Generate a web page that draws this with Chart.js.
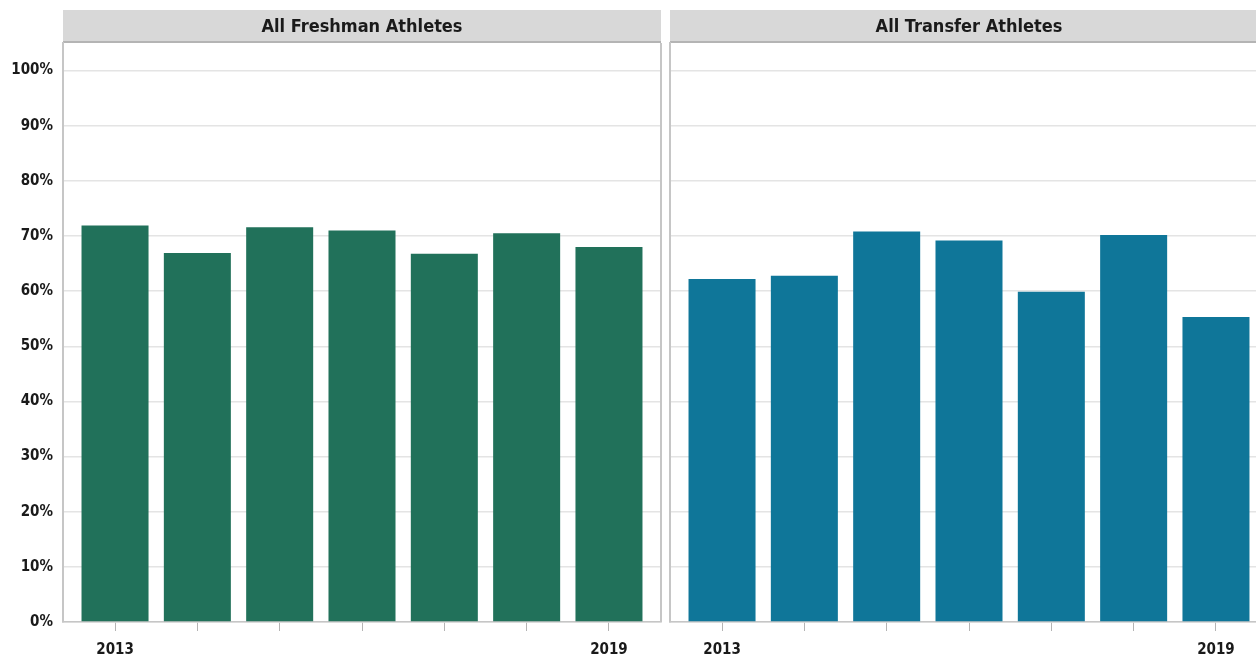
<!DOCTYPE html>
<html>
<head>
<meta charset="utf-8">
<title>Athlete Rates 2013-2019</title>
<script src="https://cdn.jsdelivr.net/npm/chart.js@4/dist/chart.umd.min.js"></script>
<style>
  html, body { margin: 0; padding: 0; background: #fff; overflow: hidden; }
  #wrap { position: relative; width: 1256px; height: 660px; overflow: hidden; }
  #left { position: absolute; left: 0; top: 0; }
  #right { position: absolute; left: 665px; top: 0; }
</style>
</head>
<body>
<div id="wrap">
  <canvas id="left" width="665" height="660"></canvas>
  <canvas id="right" width="610" height="660"></canvas>
</div>
<script>
const years = ['2013', '2014', '2015', '2016', '2017', '2018', '2019'];
const freshmanRates = [71.9, 66.9, 71.6, 71.0, 66.8, 70.5, 68.0];
const transferRates = [62.2, 62.8, 70.8, 69.2, 59.9, 70.2, 55.3];
const yTicks = [0, 10, 20, 30, 40, 50, 60, 70, 80, 90, 100];

const FONT = '"DejaVu Sans Condensed", "DejaVu Sans", sans-serif';
const BORDER = '#c6c6c6';

// grey header strip behind the title plus the right-hand frame line
const panelFrame = {
    id: 'panelFrame',
    beforeDraw(chart) {
        const { ctx, chartArea } = chart;
        ctx.save();
        ctx.fillStyle = '#d8d8d8';
        ctx.fillRect(chartArea.left, chartArea.top - 33, chartArea.right - chartArea.left, 33);
        ctx.fillStyle = '#b4b4b4';
        ctx.fillRect(chartArea.left, chartArea.top - 2, chartArea.right - chartArea.left, 2);
        ctx.restore();
    },
    afterDraw(chart) {
        const { ctx, chartArea } = chart;
        ctx.save();
        ctx.strokeStyle = BORDER;
        ctx.lineWidth = 2;
        ctx.beginPath();
        ctx.moveTo(chartArea.right, chartArea.top);
        ctx.lineTo(chartArea.right, chartArea.bottom);
        ctx.stroke();
        ctx.restore();
    }
};

function makePanel(canvasId, title, values, color, showYLabels, padLeft, padRight) {
    const points = values.map((v, i) => ({ x: i, y: v }));
    return new Chart(document.getElementById(canvasId), {
        type: 'bar',
        data: {
            datasets: [{
                data: points,
                backgroundColor: color,
                borderWidth: 0,
                categoryPercentage: 1,
                barPercentage: 0.814
            }]
        },
        options: {
            responsive: false,
            animation: false,
            layout: { padding: { left: padLeft, right: padRight, top: 0, bottom: 0 } },
            plugins: {
                legend: { display: false },
                tooltip: { enabled: false },
                title: {
                    display: true,
                    text: title,
                    fullSize: false,
                    color: '#1a1a1a',
                    font: { family: FONT, size: 18, weight: 'bold', lineHeight: 1.2 },
                    padding: { top: 17, bottom: 4.4 }
                }
            },
            scales: {
                x: {
                    type: 'linear',
                    min: -0.632,
                    max: 6.632,
                    offset: false,
                    bounds: 'data',
                    afterBuildTicks(scale) {
                        scale.ticks = years.map((y, i) => ({ value: i }));
                    },
                    afterFit(scale) { scale.height = 38; },
                    grid: {
                        offset: false,
                        drawOnChartArea: false,
                        drawTicks: true,
                        tickLength: 9,
                        color: '#b4b4b4'
                    },
                    border: { display: true, color: BORDER, width: 1.5 },
                    ticks: {
                        maxRotation: 0,
                        autoSkip: false,
                        padding: 10,
                        color: '#1a1a1a',
                        font: { family: FONT, size: 15, weight: 'bold' },
                        callback(value) {
                            const last = years.length - 1;
                            return (value === 0 || value === last) ? years[value] : '';
                        }
                    }
                },
                y: {
                    min: 0,
                    max: 105,
                    afterBuildTicks(scale) {
                        scale.ticks = yTicks.map(v => ({ value: v }));
                    },
                    afterFit(scale) { scale.width = showYLabels ? 63 : 0; },
                    grid: { color: '#e4e4e4', lineWidth: 1.5, drawTicks: false },
                    border: { display: true, color: BORDER, width: 2 },
                    ticks: {
                        display: showYLabels,
                        padding: 10,
                        color: '#1a1a1a',
                        font: { family: FONT, size: 15, weight: 'bold' },
                        callback: v => v + '%'
                    }
                }
            }
        },
        plugins: [panelFrame]
    });
}

makePanel('left', 'All Freshman Athletes', freshmanRates, '#21715a', true, 0, 4);
makePanel('right', 'All Transfer Athletes', transferRates, '#0f7699', false, 5, 7);
</script>
</body>
</html>
